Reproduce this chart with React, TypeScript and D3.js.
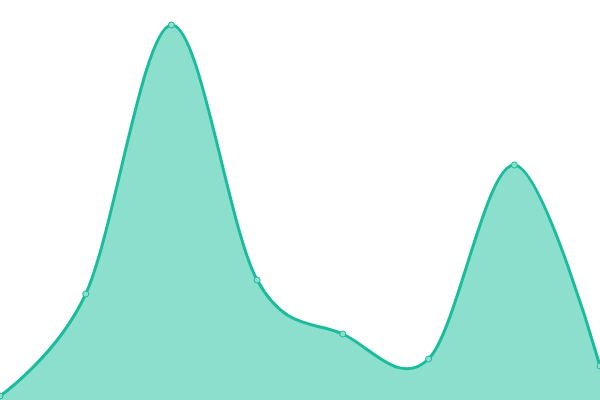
import { useEffect, useRef } from "react";
import * as d3 from "d3";

const labels = ["A", "B", "C", "D", "E", "F", "G", "H"];
const values = [1, 26.5, 93.75, 30, 16.5, 10.25, 58.75, 8.5];

const width = 600;
const height = 400;

const App = () => {
  const ref = useRef<SVGSVGElement>(null);

  useEffect(() => {
    const svg = d3.select(ref.current);
    svg.selectAll("*").remove();

    const x = d3.scalePoint().domain(labels).range([0, width]);
    const y = d3.scaleLinear().domain([0, 100]).range([height, 0]);

    const data = labels.map((l, i) => ({ l, v: values[i] }));

    const area = d3
      .area<{ l: string; v: number }>()
      .x((d) => x(d.l) as number)
      .y0(height)
      .y1((d) => y(d.v))
      .curve(d3.curveCardinal);

    const line = d3
      .line<{ l: string; v: number }>()
      .x((d) => x(d.l) as number)
      .y((d) => y(d.v))
      .curve(d3.curveCardinal);

    svg.append("path").datum(data).attr("d", area).attr("fill", "#8cdecd");

    svg
      .append("path")
      .datum(data)
      .attr("d", line)
      .attr("fill", "none")
      .attr("stroke", "#1abc9c")
      .attr("stroke-width", 3);

    svg
      .selectAll(".dot")
      .data(data)
      .enter()
      .append("circle")
      .attr("class", "dot")
      .attr("cx", (d) => x(d.l) as number)
      .attr("cy", (d) => y(d.v))
      .attr("r", 3)
      .attr("fill", "#8cdecd")
      .attr("stroke", "#1abc9c")
      .attr("stroke-width", 1);
  }, []);

  return (
    <svg
      ref={ref}
      width={width}
      height={height}
      style={{ position: "fixed", left: 0, top: 0, overflow: "hidden" }}
    />
  );
};

export default App;
